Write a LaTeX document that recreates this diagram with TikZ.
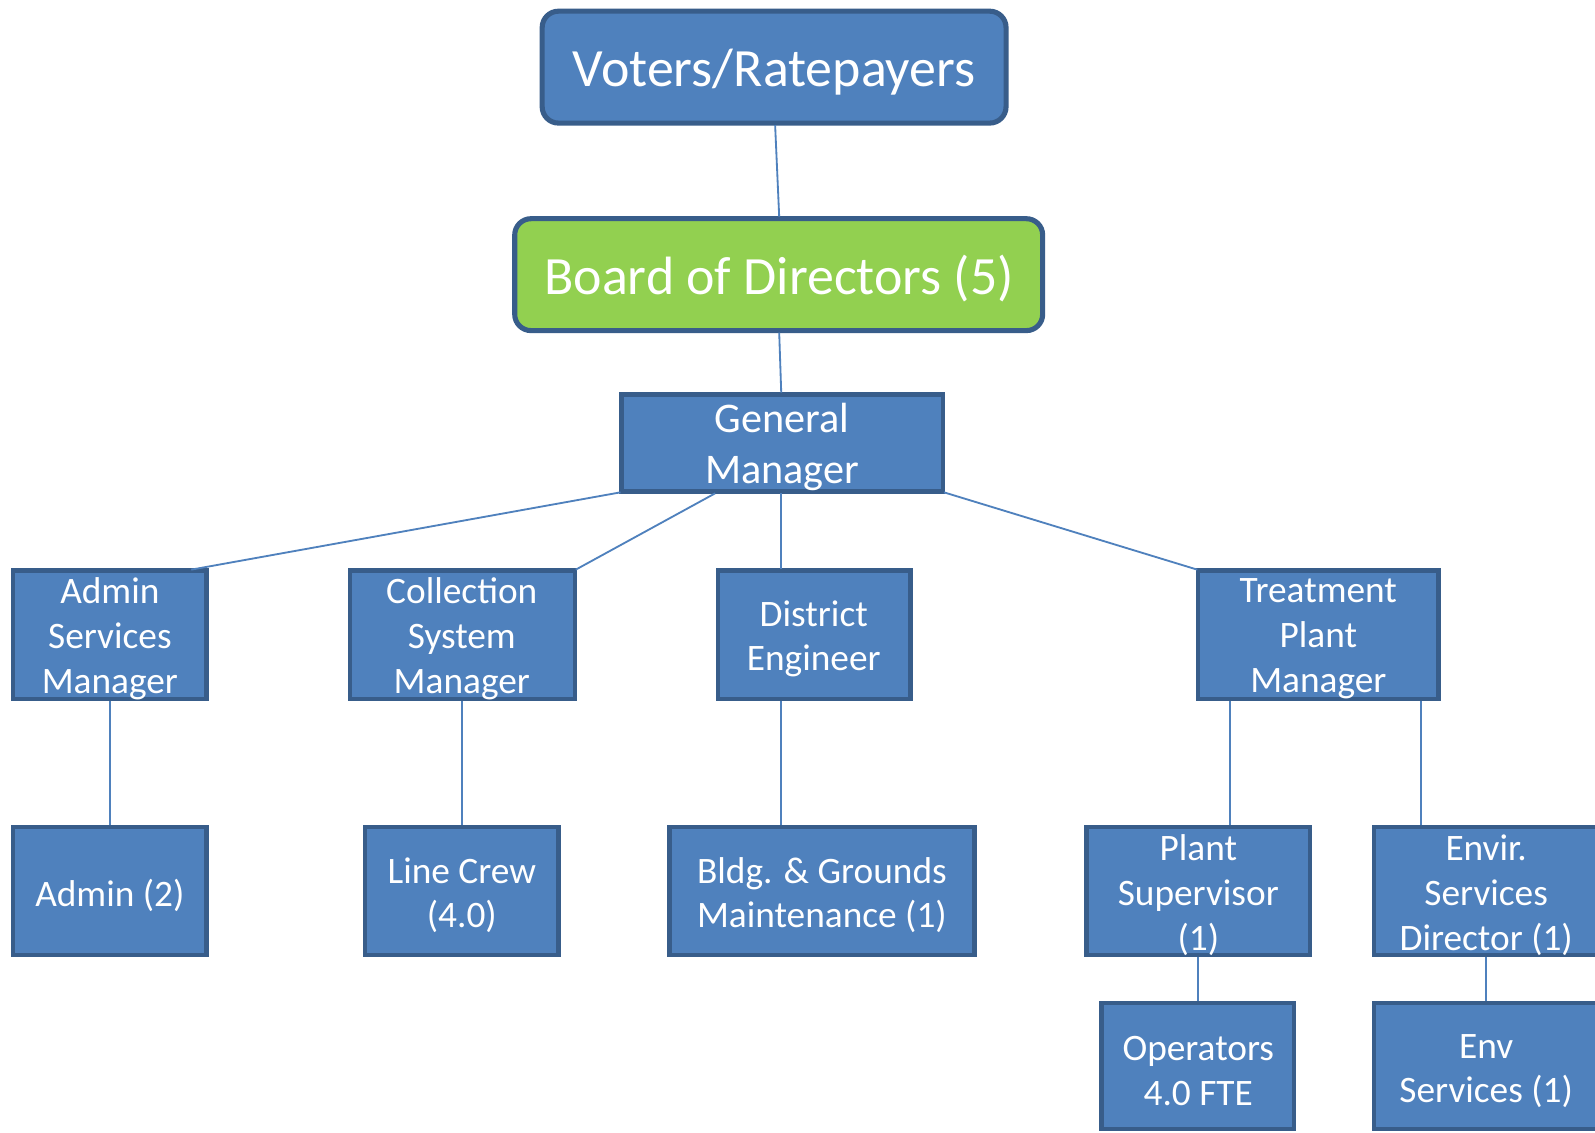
\documentclass[tikz,border=0pt]{standalone}
\usepackage{fontspec}
\setmainfont{Carlito}
\definecolor{boxblue}{HTML}{4F81BD}
\definecolor{boxedge}{HTML}{385D8A}
\definecolor{boxgreen}{HTML}{92D050}
\begin{document}
\begin{tikzpicture}[x=1pt,y=-1pt,
  box/.style={draw=boxedge,line width=4.3pt,fill=boxblue},
  bigbox/.style={box,rounded corners=16pt,line width=5pt},
  lbl/.style={text=white,inner sep=0pt,align=center,font=\fontsize{36.7}{44}\selectfont},
  biglbl/.style={lbl,font=\fontsize{53}{64}\selectfont},
  gmlbl/.style={lbl,font=\fontsize{41.5}{50}\selectfont},
  link/.style={draw=boxblue,line width=1.8pt}]
\useasboundingbox (0,0) rectangle (1568,1113);
\fill[white] (0,0) rectangle (1568,1113);
\draw[bigbox] (533,11) rectangle (989,121);
\node[biglbl] (vot) at (761,71) {Voters/Ratepayers};
\draw[bigbox,fill=boxgreen] (506,215) rectangle (1025,325);
\node[biglbl] (bod) at (766,274) {Board of Directors (5)};
\draw[box] (611,388) rectangle (927,483);
\node[gmlbl] (gm) at (769,439) {General\\Manager};
\draw[box] (13,561) rectangle (203,687);
\node[lbl] (asm) at (108,628) {Admin\\Services\\Manager};
\draw[box] (344,561) rectangle (565,687);
\node[lbl] (csm) at (454,628) {Collection\\System\\Manager};
\draw[box] (706,561) rectangle (895,687);
\node[lbl] (de) at (800,628) {District\\Engineer};
\draw[box] (1178,561) rectangle (1414,687);
\node[lbl] (tpm) at (1296,628) {Treatment\\Plant\\Manager};
\draw[box] (13,813) rectangle (203,939);
\node[lbl] (adm) at (108,880) {Admin (2)};
\draw[box] (359,813) rectangle (549,939);
\node[lbl] (lc) at (454,880) {Line Crew\\(4.0)};
\draw[box] (658,813) rectangle (958,939);
\node[lbl] (bg) at (808,880) {Bldg. \& Grounds\\Maintenance (1)};
\draw[box] (1068,813) rectangle (1288,939);
\node[lbl] (ps) at (1178,880) {Plant\\Supervisor\\(1)};
\draw[box] (1351,813) rectangle (1620,939);
\node[lbl] (esd) at (1461,880) {Envir.\\Services\\Director (1)};
\draw[box] (1083,986) rectangle (1272,1110);
\node[lbl] (op) at (1178,1053) {Operators\\4.0 FTE};
\draw[box] (1351,986) rectangle (1620,1110);
\node[lbl] (env) at (1461,1053) {Env\\Services (1)};
% connector anchors
\coordinate (vot-b) at (762,123);
\coordinate (bod-t) at (766,213);
\coordinate (bod-b) at (766,327);
\coordinate (gm-t) at (768,386);
\coordinate (gm-bl) at (610,484);
\coordinate (gm-b2) at (703,485);
\coordinate (gm-b3) at (768,485);
\coordinate (gm-br) at (928,484);
\coordinate (asm-t) at (188,560);
\coordinate (csm-t) at (566,560);
\coordinate (de-t) at (768,559);
\coordinate (tpm-t) at (1177,560);
\coordinate (asm-b) at (108,689);
\coordinate (adm-t) at (108,811);
\coordinate (csm-b) at (454,689);
\coordinate (lc-t) at (454,811);
\coordinate (de-b) at (768,689);
\coordinate (bg-t) at (768,811);
\coordinate (tpm-b1) at (1209,689);
\coordinate (ps-t) at (1209,811);
\coordinate (tpm-b2) at (1397,689);
\coordinate (esd-t) at (1397,811);
\coordinate (ps-b) at (1178,941);
\coordinate (op-t) at (1178,984);
\coordinate (esd-b) at (1461,941);
\coordinate (env-t) at (1461,984);
\draw[link] (vot-b) -- (bod-t);
\draw[link] (bod-b) -- (gm-t);
\draw[link] (gm-bl) -- (asm-t);
\draw[link] (gm-b2) -- (csm-t);
\draw[link] (gm-b3) -- (de-t);
\draw[link] (gm-br) -- (tpm-t);
\draw[link] (asm-b) -- (adm-t);
\draw[link] (csm-b) -- (lc-t);
\draw[link] (de-b) -- (bg-t);
\draw[link] (tpm-b1) -- (ps-t);
\draw[link] (tpm-b2) -- (esd-t);
\draw[link] (ps-b) -- (op-t);
\draw[link] (esd-b) -- (env-t);
\end{tikzpicture}
\end{document}
